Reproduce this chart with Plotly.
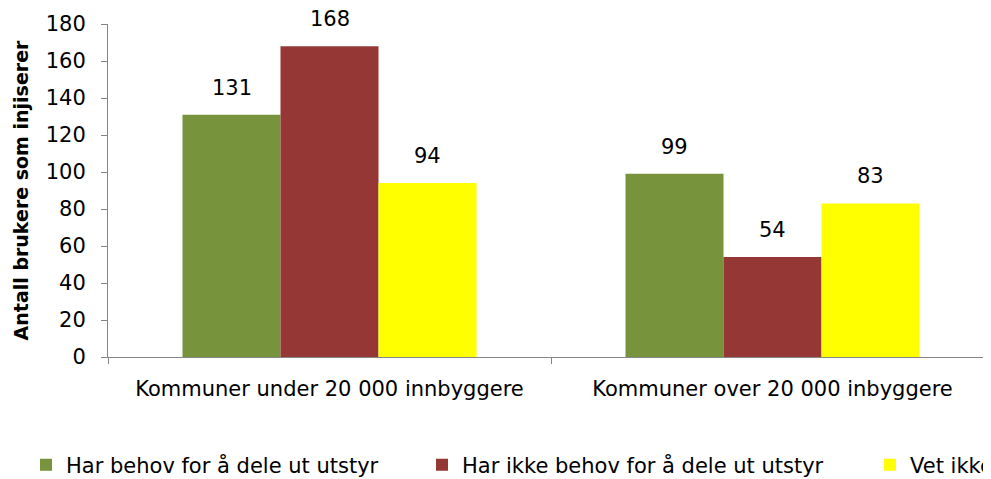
import plotly.graph_objects as go

categories = ["Kommuner under 20 000 innbyggere", "Kommuner over 20 000 inbyggere"]
series_names = ["Har behov for å dele ut utstyr", "Har ikke behov for å dele ut utstyr", "Vet ikke"]
series_values = [[131, 99], [168, 54], [94, 83]]
colors = ["#77933C", "#953735", "#FFFF00"]
y_ticks = [0, 20, 40, 60, 80, 100, 120, 140, 160, 180]

FONT = "DejaVu Sans, sans-serif"
FS = 21
OFF = 8  # page body margin
W, H = 991 - OFF, 479 - OFF
ML, MT = 108 - OFF, 24 - OFF
MB = H - (357 - OFF)
cat_px = 443.0  # pixel width of one category
bar_px = 98.0

fig = go.Figure()
legends = ["legend", "legend2", "legend3"]
for name, vals, col, lg in zip(series_names, series_values, colors, legends):
    fig.add_trace(go.Bar(
        x=categories, y=vals, name=name, marker=dict(color=col, line=dict(width=0)),
        legend=lg, showlegend=True,
    ))

# data labels
annotations = []
n = len(series_names)
for i, vals in enumerate(series_values):
    for c, v in zip(categories, vals):
        annotations.append(dict(
            x=c, y=v, xref="x", yref="y", text=str(v), showarrow=False,
            xshift=(i - (n - 1) / 2) * bar_px, yshift=27, yanchor="middle",
            font=dict(size=FS, color="#000000", family=FONT)))

leg_common = dict(orientation="h", yanchor="middle", xanchor="left",
                  xref="container", yref="container", y=1 - (465 - OFF) / H,
                  font=dict(size=FS, color="#000000", family=FONT),
                  bgcolor="rgba(0,0,0,0)", itemwidth=30)
x_end = -0.5 + (W - ML) / cat_px
fig.update_layout(
    width=W, height=H, showlegend=True,
    margin=dict(l=ML, r=0, t=MT, b=MB),
    plot_bgcolor="white", paper_bgcolor="white",
    barmode="group", bargap=1 - 3 * bar_px / cat_px, bargroupgap=0,
    font=dict(family=FONT, color="#000000"),
    legend=dict(x=(44 - 18 - OFF) / W, **leg_common),
    legend2=dict(x=(440 - 18 - OFF) / W, **leg_common),
    legend3=dict(x=(888 - 18 - OFF) / W, **leg_common),
    annotations=annotations,
    xaxis=dict(range=[-0.5, x_end], showline=True, linecolor="#868686", linewidth=1,
               ticks="outside", tickson="boundaries", tickcolor="#868686", ticklen=6,
               ticklabelstandoff=13, automargin=False,
               tickfont=dict(size=FS, family=FONT, color="#000000"), showgrid=False),
    yaxis=dict(range=[0, 180], tickvals=y_ticks, showline=True, linecolor="#868686", linewidth=1,
               ticks="outside", tickcolor="#868686", ticklen=6, showgrid=False, zeroline=False,
               ticklabelstandoff=11, automargin=False,
               tickfont=dict(size=FS, family=FONT, color="#000000"),
               title=dict(text="<b>Antall brukere som injiserer</b>",
                          font=dict(size=19, family=FONT, color="#000000"), standoff=12)),
)
fig.write_html("out.html")
